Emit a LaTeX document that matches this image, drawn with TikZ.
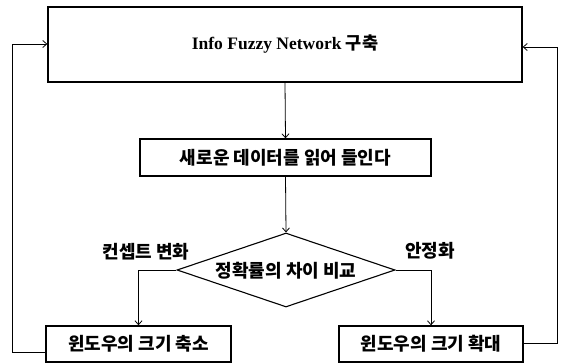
\documentclass[tikz,border=0pt]{standalone}
\usepackage{fontspec}
\setmainfont{Liberation Serif}
\newfontfamily\kr{Noto Sans CJK KR}
\usetikzlibrary{shapes.geometric,arrows.meta,calc}
\tikzset{
  boxstyle/.style={draw, line width=1.3pt, inner sep=0pt},
  lbl/.style={font=\kr\bfseries\fontsize{18}{21}\selectfont, inner sep=0pt},
  conn/.style={line width=0.8pt, -{Straight Barb[length=4pt,width=7pt]}},
  plain/.style={line width=0.8pt}
}
\begin{document}
\begin{tikzpicture}[x=1pt,y=-1pt]
\useasboundingbox (0,0) rectangle (564,363);
% top box
\node[boxstyle, minimum width=474pt, minimum height=75pt] (top) at (285,44.5)
  {\bfseries\fontsize{17.5}{20}\selectfont Info Fuzzy Network {\kr 구축}};
% middle box
\node[boxstyle, minimum width=291pt, minimum height=37pt, lbl] (mid) at (285.5,157.5) {새로운 데이터를 읽어 들인다};
% diamond
\node[draw, line width=1.1pt, diamond, aspect=2.95, minimum width=218pt, minimum height=74pt, inner sep=0pt] (dia) at (286,270) {};
\node[lbl] (diat) at (286,271) {정확률의 차이 비교};
% bottom boxes
\node[boxstyle, minimum width=185pt, minimum height=36pt, lbl] (bl) at (138.5,344) {윈도우의 크기 축소};
\node[boxstyle, minimum width=184pt, minimum height=36pt, lbl] (br) at (431,344) {윈도우의 크기 확대};
% labels
\node[lbl] (lab1) at (146,252) {컨셉트 변화};
\node[lbl] (lab2) at (430,251) {안정화};
% coordinates for loops
\coordinate (tl) at (12,44);
\coordinate (tr) at (557,47);
% connectors
\draw[conn] (top.south) -- (mid.north);
\draw[conn] (mid.south) -- (dia.north);
\draw[conn] (dia.west) -| (bl.north);
\draw[conn] (dia.east) -| (br.north);
\draw[conn] ($(bl.west)+(0,8)$) -| (tl) -- (top.west |- tl);
\draw[conn] ($(br.east)+(0,-1)$) -| (tr) -- (top.east |- tr);
\end{tikzpicture}
\end{document}
